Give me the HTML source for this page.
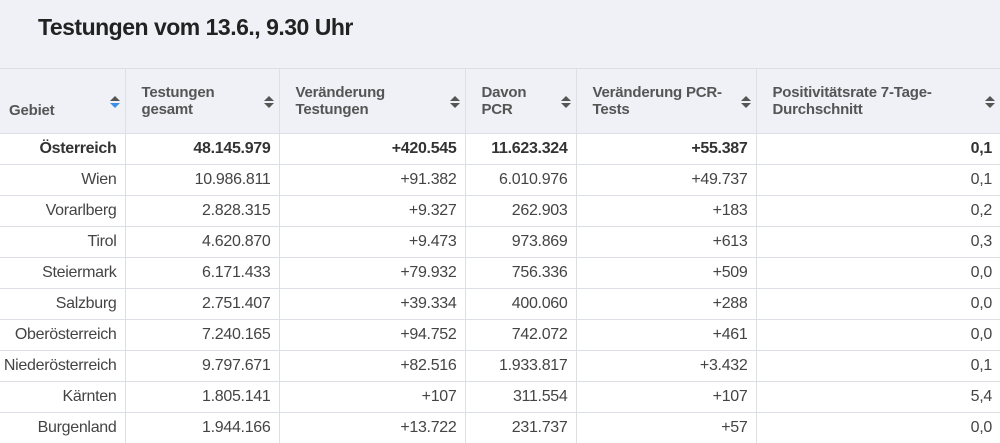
<!DOCTYPE html>
<html><head><meta charset="utf-8"><style>
body{margin:0;width:1000px;height:443px;overflow:hidden;background:#fff;font-family:"Liberation Sans",sans-serif;color:#444;}
.title{height:68px;background:#eff1f6;position:relative;}
.title span{position:absolute;left:38px;top:14px;font-size:23px;font-weight:bold;color:#222;letter-spacing:-0.5px;}
table{border-collapse:collapse;table-layout:fixed;width:1000px;position:absolute;top:68px;left:0;}
th{background:#eff1f6;height:65px;box-sizing:border-box;text-align:left;vertical-align:middle;font-size:15px;color:#555;font-weight:bold;padding:0 30px 0 16px;position:relative;border-left:1px solid #dcdfe6;border-top:1px solid #dcdfe6;line-height:17px;letter-spacing:-0.2px;}
th:first-child{border-left:none;padding-left:9px;}
th:first-child span{position:relative;top:9px}
th .s{position:absolute;right:10px;top:27px;width:0;height:0;}
th .s:before{content:"";position:absolute;left:-5px;top:0;border:5px solid transparent;border-bottom:5px solid #555;border-top:none}
th .s:after{content:"";position:absolute;left:-5px;top:7px;border:5px solid transparent;border-top:5px solid #555;border-bottom:none}
th .s.b:after{border-top-color:#3a8ee6}
td{height:30px;border-top:1px solid #dcdfe6;border-left:1px solid #dcdfe6;text-align:right;padding:0 8px 0 0;font-size:16px;letter-spacing:-0.3px;}
td:first-child{border-left:none}
tr.b td{font-weight:bold;color:#333}
</style></head><body>
<div class="title"><span>Testungen vom 13.6., 9.30 Uhr</span></div>
<table>
<colgroup><col style="width:125px"><col style="width:154px"><col style="width:186px"><col style="width:111px"><col style="width:180px"><col style="width:244px"></colgroup>
<tr><th><span>Gebiet</span><i class="s b"></i></th><th>Testungen gesamt<i class="s"></i></th><th>Veränderung Testungen<i class="s"></i></th><th>Davon PCR<i class="s"></i></th><th>Veränderung PCR-Tests<i class="s"></i></th><th>Positivitätsrate 7-Tage-Durchschnitt<i class="s"></i></th></tr>
<tr class="b"><td>Österreich</td><td>48.145.979</td><td>+420.545</td><td>11.623.324</td><td>+55.387</td><td>0,1</td></tr>
<tr><td>Wien</td><td>10.986.811</td><td>+91.382</td><td>6.010.976</td><td>+49.737</td><td>0,1</td></tr>
<tr><td>Vorarlberg</td><td>2.828.315</td><td>+9.327</td><td>262.903</td><td>+183</td><td>0,2</td></tr>
<tr><td>Tirol</td><td>4.620.870</td><td>+9.473</td><td>973.869</td><td>+613</td><td>0,3</td></tr>
<tr><td>Steiermark</td><td>6.171.433</td><td>+79.932</td><td>756.336</td><td>+509</td><td>0,0</td></tr>
<tr><td>Salzburg</td><td>2.751.407</td><td>+39.334</td><td>400.060</td><td>+288</td><td>0,0</td></tr>
<tr><td>Oberösterreich</td><td>7.240.165</td><td>+94.752</td><td>742.072</td><td>+461</td><td>0,0</td></tr>
<tr><td>Niederösterreich</td><td>9.797.671</td><td>+82.516</td><td>1.933.817</td><td>+3.432</td><td>0,1</td></tr>
<tr><td>Kärnten</td><td>1.805.141</td><td>+107</td><td>311.554</td><td>+107</td><td>5,4</td></tr>
<tr><td>Burgenland</td><td>1.944.166</td><td>+13.722</td><td>231.737</td><td>+57</td><td>0,0</td></tr>
</table>
</body></html>
